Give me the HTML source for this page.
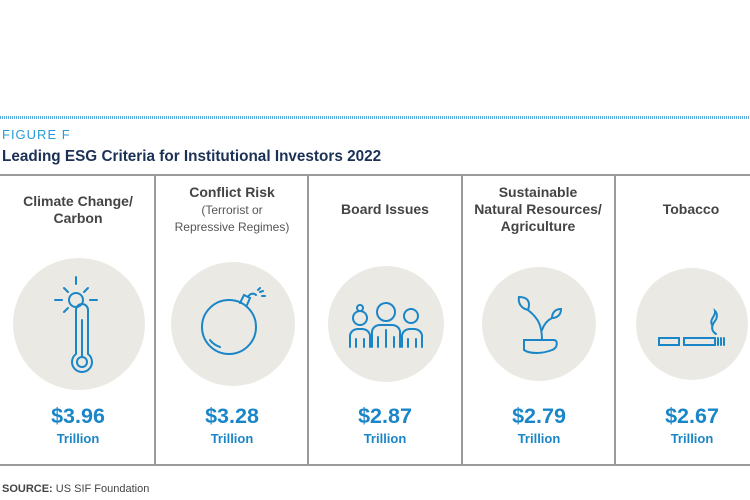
<!DOCTYPE html>
<html><head><style>
body{margin:0;width:750px;height:500px;background:#fff;font-family:"Liberation Sans",Arial,sans-serif;position:relative;overflow:hidden}
.dots{position:absolute;left:0;top:116px;width:750px;height:3px;background:repeating-linear-gradient(90deg,#5aa9dc 0 1px,transparent 1px 2px)}
.fig{position:absolute;left:2px;top:127px;font-size:13px;color:#2a9ad8;letter-spacing:1px}
.title{position:absolute;left:2px;top:148px;font-size:15.3px;font-weight:bold;color:#1c3156}
.rule{position:absolute;left:0;width:750px;height:2px;background:#9a9a9a}
.div{position:absolute;top:175px;height:290px;width:2px;background:#9a9a9a}
.head{position:absolute;text-align:center;font-weight:bold;color:#444;font-size:14px;line-height:17px;width:150px}
.sub{font-weight:normal;font-size:12px;line-height:15px;color:#555}
.val{position:absolute;top:404px;width:150px;text-align:center;color:#1a86c8;font-weight:bold;font-size:21.5px}
.tr{position:absolute;top:431px;width:150px;text-align:center;color:#1a86c8;font-weight:bold;font-size:13px}
svg{position:absolute;left:0;top:0}
.src{position:absolute;left:2px;top:483px;font-size:11px;color:#444}
</style></head><body>
<div class="dots"></div>
<div class="fig">FIGURE F</div>
<div class="title">Leading ESG Criteria for Institutional Investors 2022</div>
<div class="rule" style="top:174px"></div>
<div class="rule" style="top:464px"></div>
<div class="div" style="left:154px"></div>
<div class="div" style="left:307px"></div>
<div class="div" style="left:461px"></div>
<div class="div" style="left:614px"></div>

<div class="head" style="left:3px;top:193px">Climate Change/<br>Carbon</div>
<div class="head" style="left:157px;top:184px">Conflict Risk<br><span class="sub">(Terrorist or<br>Repressive Regimes)</span></div>
<div class="head" style="left:310px;top:201px">Board Issues</div>
<div class="head" style="left:463px;top:184px">Sustainable<br>Natural Resources/<br>Agriculture</div>
<div class="head" style="left:616px;top:201px">Tobacco</div>

<svg width="750" height="500" fill="none" stroke="#1a86c8" stroke-width="2" stroke-linecap="round">
<g fill="#ebe9e4" stroke="none">
<circle cx="79" cy="324" r="66"/><circle cx="233" cy="324" r="62"/><circle cx="386" cy="324" r="58"/><circle cx="539" cy="324" r="57"/><circle cx="692" cy="324" r="56"/>
</g>
<circle cx="76" cy="300" r="7"/>
<path d="M76 277v7M76 316v7M55 300h7M90 300h7M64 288l4 4M88 288l-4 4M64 312l4-4"/>
<path d="M88 310v44a10 10 0 1 1 -12 0v-44a6 6 0 0 1 12 0z"/>
<circle cx="82" cy="362" r="5"/>
<path d="M82 320v37"/>
<circle cx="229" cy="327" r="27"/>
<path d="M240 303l4-8 6 3-3 7M248 297c2-4 6-4 8-2M258 290l2-2M262 296h3M260 292l3-1"/>
<path d="M210 340c3 4 7 6 10 7"/>
<path d="M350 347v-12a8 8 0 0 1 8-6h4a8 8 0 0 1 8 6v12M356 347v-8M364 347v-8"/>
<circle cx="360" cy="318" r="7"/><circle cx="360" cy="308" r="3"/>
<path d="M372 347v-16a8 8 0 0 1 8-6h12a8 8 0 0 1 8 6v16M378 347v-10M394 347v-10M386 330v17"/>
<circle cx="386" cy="312" r="9"/>
<path d="M402 347v-12a8 8 0 0 1 8-6h4a8 8 0 0 1 8 6v12M408 347v-8M416 347v-8"/>
<circle cx="411" cy="316" r="7"/>
<path d="M524 340h30c4 0 4 8-2 10-10 4-22 4-28 0zM524 340v5"/>
<path d="M542 340c0-15-4-22-14-30M528 310c-8-2-10-8-9-13 8 0 12 4 9 13z"/>
<path d="M542 330c2-6 6-10 10-12M552 318c0-6 4-9 9-9 0 6-4 9-9 9z"/>
<path d="M659 338h20v7h-20zM684 338h31v7h-31zM718 338v7M721 338v7M724 338v7"/>
<path d="M716 334c-6-4-4-9-1-13 3-4 2-8 0-10 1 5-6 8-3 14"/>
</svg>

<div class="val" style="left:3px">$3.96</div><div class="tr" style="left:3px">Trillion</div>
<div class="val" style="left:157px">$3.28</div><div class="tr" style="left:157px">Trillion</div>
<div class="val" style="left:310px">$2.87</div><div class="tr" style="left:310px">Trillion</div>
<div class="val" style="left:464px">$2.79</div><div class="tr" style="left:464px">Trillion</div>
<div class="val" style="left:617px">$2.67</div><div class="tr" style="left:617px">Trillion</div>

<div class="src"><b>SOURCE:</b> US SIF Foundation</div>
</body></html>
